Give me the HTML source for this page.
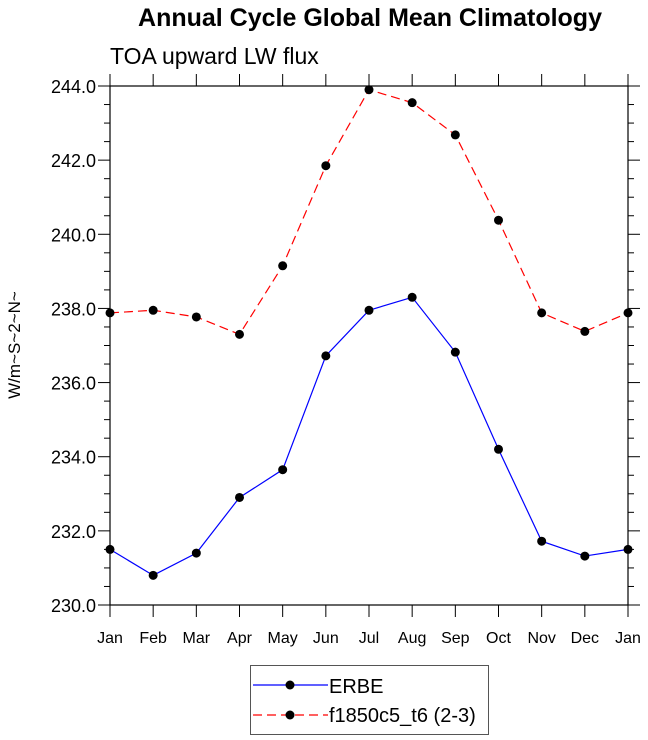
<!DOCTYPE html>
<html><head><meta charset="utf-8"><style>
html,body{margin:0;padding:0;background:#fff;}
svg{display:block;font-family:"Liberation Sans",Arial,sans-serif;}
</style></head><body>
<svg id="s" width="648" height="740" xmlns="http://www.w3.org/2000/svg">
<text x="370" y="26" text-anchor="middle" font-size="25" font-weight="bold">Annual Cycle Global Mean Climatology</text>
<text x="110" y="64" font-size="23">TOA upward LW flux</text>
<text transform="translate(20,345) rotate(-90)" text-anchor="middle" font-size="17">W/m~S~2~N~</text>
<g id="g"></g>
<rect x="250.5" y="665.5" width="238" height="69" fill="none" stroke="#555" stroke-width="1"/>
<line x1="253" y1="685" x2="328" y2="685" stroke="#0000ff" stroke-width="1.2"/>
<circle cx="290" cy="685" r="4.5"/>
<text x="329" y="693" font-size="20">ERBE</text>
<line x1="253" y1="715" x2="328" y2="715" stroke="#ff0000" stroke-width="1.2" stroke-dasharray="9,5"/>
<circle cx="290" cy="715" r="4.5"/>
<text x="329" y="722" font-size="20">f1850c5_t6 (2-3)</text>
</svg>
<script>
var g=document.getElementById('g'),h='';
var X0=110,X1=628,Y0=605,Y1=86;
function X(i){return X0+(X1-X0)*i/12;}
function Y(v){return Y0-(v-230)*(Y0-Y1)/14;}
var mo=['Jan','Feb','Mar','Apr','May','Jun','Jul','Aug','Sep','Oct','Nov','Dec','Jan'];
for(var i=0;i<=12;i++){var x=X(i);
h+='<line x1="'+x+'" y1="'+Y1+'" x2="'+x+'" y2="'+(Y1-12)+'" stroke="#000"/>';
h+='<line x1="'+x+'" y1="'+Y0+'" x2="'+x+'" y2="'+(Y0+12)+'" stroke="#000"/>';
h+='<text x="'+x+'" y="'+(Y0+38)+'" text-anchor="middle" font-size="16">'+mo[i]+'</text>';}
for(var v=230;v<=244.001;v+=0.5){var y=Y(v),maj=Math.abs(v/2-Math.round(v/2))<0.01,l=maj?12:6;
h+='<line x1="'+(X0-l)+'" y1="'+y+'" x2="'+X0+'" y2="'+y+'" stroke="#000"/>';
h+='<line x1="'+X1+'" y1="'+y+'" x2="'+(X1+l)+'" y2="'+y+'" stroke="#000"/>';
if(maj)h+='<text x="'+(X0-14)+'" y="'+(y+7)+'" text-anchor="end" font-size="18">'+v.toFixed(1)+'</text>';}
h+='<rect x="'+X0+'" y="'+Y1+'" width="'+(X1-X0)+'" height="'+(Y0-Y1)+'" fill="none" stroke="#000" stroke-width="1.2"/>';
var a=[231.5,230.8,231.4,232.9,233.65,236.72,237.95,238.3,236.82,234.2,231.72,231.32,231.5];
var b=[237.88,237.95,237.77,237.3,239.15,241.85,243.9,243.55,242.68,240.38,237.88,237.38,237.88];
function pl(d,c,da){var p=d.map(function(v,i){return X(i)+','+Y(v)}).join(' ');
h+='<polyline points="'+p+'" fill="none" stroke="'+c+'" stroke-width="1.2"'+(da?' stroke-dasharray="9,5"':'')+'/>';
d.forEach(function(v,i){h+='<circle cx="'+X(i)+'" cy="'+Y(v)+'" r="4.5"/>';});}
pl(a,'#0000ff',0);pl(b,'#ff0000',1);
g.innerHTML=h;
</script>
</body></html>
